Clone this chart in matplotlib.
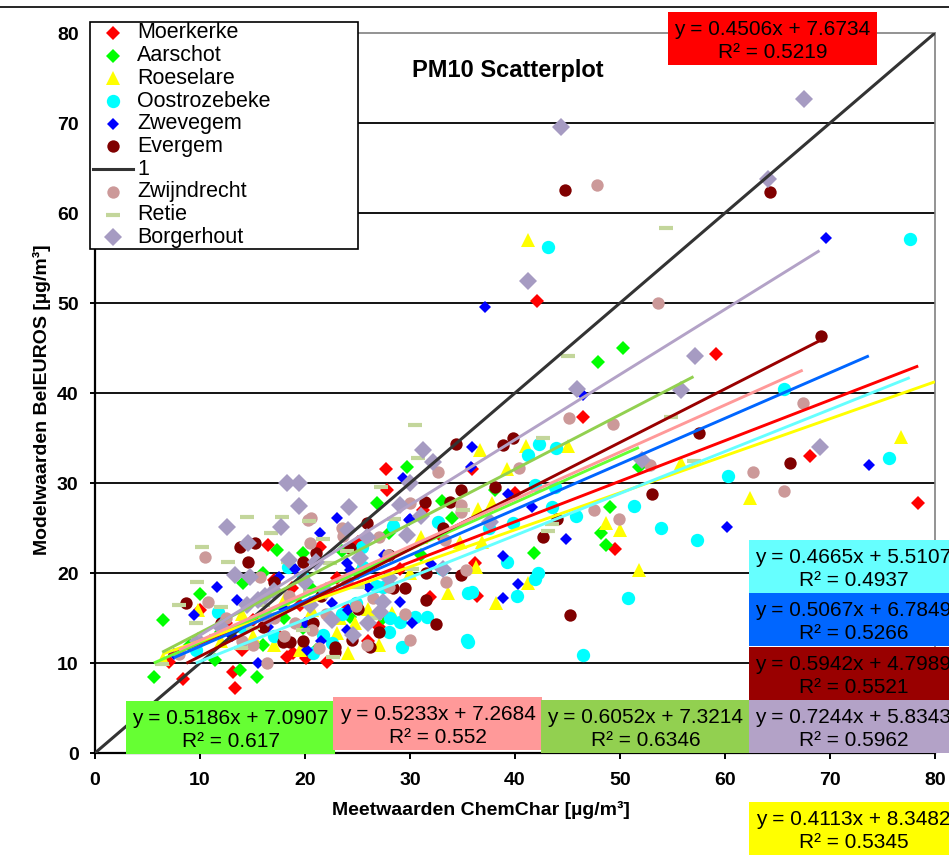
import matplotlib
matplotlib.use("Agg")
import matplotlib.pyplot as plt
from matplotlib.patches import Rectangle
from matplotlib.lines import Line2D
import numpy as np

plt.rcParams['font.family'] = ['Liberation Sans', 'DejaVu Sans']

W, H = 949, 855

# —— data (µg/m³) —— #
moerkerke_x = [78.4, 59.1, 68.1, 42.1, 46.5, 35.9, 40.0, 49.5, 36.2, 36.4, 27.7, 27.8, 21.4, 31.2, 25.0,
               31.9, 27.0, 20.1, 22.1, 16.5, 17.0, 18.8, 10.0, 7.0, 8.4, 13.3, 13.1, 18.9, 18.3, 17.6,
               15.0, 24.0, 29.0, 33.0, 12.5, 20.5, 23.0, 26.0, 14.0, 19.5]
moerkerke_y = [27.8, 44.3, 33.0, 50.2, 37.3, 31.6, 28.9, 22.7, 21.1, 17.4, 31.5, 29.2, 22.9, 27.0, 23.4,
               17.3, 14.0, 10.6, 10.1, 23.1, 19.2, 18.3, 15.9, 10.1, 8.2, 7.2, 9.0, 11.1, 10.7, 12.9,
               14.8, 16.0, 20.5, 24.0, 14.5, 14.0, 19.5, 12.5, 11.5, 16.5]

aarschot_x = [50.3, 47.9, 29.7, 51.8, 34.0, 49.0, 48.2, 48.7, 41.8, 38.1, 26.9, 19.8, 24.3, 27.4, 17.3,
              10.0, 14.1, 6.5, 5.6, 15.4, 11.4, 13.8, 19.8, 22.0, 25.0, 31.0, 18.0, 16.0, 33.0, 12.0,
              21.0, 14.5, 20.5, 23.5, 28.0, 9.0, 16.0]
aarschot_y = [45.0, 43.4, 31.8, 31.8, 26.1, 27.3, 24.4, 23.1, 22.2, 29.2, 27.8, 22.2, 15.1, 15.0, 22.6,
              17.7, 18.9, 14.8, 8.4, 8.4, 10.3, 9.2, 13.9, 18.0, 20.0, 22.0, 15.0, 12.0, 28.0, 13.5,
              11.5, 16.5, 18.5, 22.5, 24.5, 12.0, 20.0]

roeselare_x = [41.2, 76.8, 62.4, 55.8, 51.8, 48.7, 50.0, 45.0, 41.0, 36.7, 39.2, 37.8, 36.5, 36.9, 36.3,
               41.2, 38.2, 33.6, 27.0, 24.1, 28.3, 20.7, 23.3, 23.0, 24.8, 9.8, 34.8, 6.5, 12.0, 15.0,
               18.0, 30.0, 14.0, 17.0, 21.5, 26.0, 31.0, 19.5, 81.2]
roeselare_y = [57.0, 35.1, 28.3, 32.2, 20.3, 25.6, 24.8, 34.1, 34.1, 33.7, 31.6, 27.8, 27.1, 23.4, 20.7,
               18.9, 16.7, 17.8, 12.0, 11.1, 15.6, 15.9, 15.0, 13.3, 14.4, 15.9, 23.4, 10.5, 12.5, 13.0,
               17.0, 20.0, 15.5, 12.0, 18.0, 16.0, 24.0, 11.5, 39.5]

oostrozebeke_x = [77.6, 43.1, 65.6, 75.6, 60.3, 51.3, 53.9, 57.3, 45.8, 43.5, 39.8, 41.9, 43.8, 42.3, 43.9,
                  41.2, 32.7, 39.2, 42.2, 41.9, 35.9, 40.2, 50.8, 35.5, 46.5, 28.4, 25.4, 26.8, 24.9, 30.5,
                  31.6, 29.0, 28.0, 29.2, 21.7, 22.6, 20.8, 35.5, 35.4, 18.4, 11.7, 9.6, 19.8, 25.5, 27.4,
                  28.1, 14.0, 17.0, 23.5, 33.0, 37.5]
oostrozebeke_y = [57.1, 56.2, 40.4, 32.8, 30.8, 27.4, 25.0, 23.7, 26.3, 27.3, 25.6, 29.8, 29.6, 34.3, 33.9,
                  33.1, 25.7, 21.2, 20.0, 19.3, 17.9, 17.4, 17.2, 12.3, 10.9, 25.2, 22.9, 18.6, 16.7, 15.1,
                  15.1, 14.6, 13.4, 11.8, 13.1, 12.2, 11.1, 17.8, 12.6, 20.7, 15.7, 11.4, 19.6, 20.7, 18.4,
                  15.0, 14.0, 13.0, 15.5, 20.5, 25.0]

zwevegem_x = [69.6, 37.1, 73.7, 60.2, 46.5, 35.9, 35.8, 29.3, 39.3, 41.6, 44.9, 29.9, 38.9, 40.3, 38.9,
              23.0, 21.4, 30.0, 24.0, 24.3, 22.6, 24.1, 29.0, 30.2, 24.0, 20.2, 11.6, 9.4, 17.5, 15.5,
              7.5, 13.0, 18.0, 20.0, 26.0, 32.0, 16.5, 19.0, 27.5, 13.5, 21.5]
zwevegem_y = [57.2, 49.5, 32.0, 25.1, 39.8, 34.0, 31.8, 30.5, 28.8, 27.3, 23.8, 25.9, 21.9, 18.8, 17.2,
              26.1, 24.4, 26.0, 21.1, 20.3, 16.7, 15.9, 16.8, 14.4, 13.7, 11.4, 18.4, 15.3, 19.6, 10.0,
              11.0, 13.0, 16.0, 14.5, 18.5, 21.0, 14.0, 20.5, 22.0, 17.0, 12.5]

evergem_x = [44.8, 64.3, 69.1, 57.5, 66.2, 53.0, 45.2, 42.7, 38.9, 39.8, 38.1, 34.9, 34.9, 44.0, 34.4,
             31.4, 33.8, 33.1, 25.9, 24.3, 19.8, 21.0, 31.5, 31.5, 29.5, 28.4, 32.5, 20.8, 24.5, 26.2,
             22.9, 13.8, 15.2, 14.6, 8.7, 17.9, 18.6, 19.8, 22.9, 16.0, 27.0, 12.0, 21.5, 25.0, 28.0,
             17.0]
evergem_y = [62.6, 62.3, 46.3, 35.6, 32.2, 28.8, 15.3, 24.0, 34.2, 35.0, 29.6, 29.2, 19.8, 26.0, 34.3,
             27.9, 27.9, 25.0, 25.6, 22.8, 21.2, 22.2, 20.0, 17.0, 18.3, 18.3, 14.3, 14.4, 12.6, 11.8,
             11.8, 22.9, 23.3, 21.2, 16.7, 12.3, 12.3, 12.5, 11.2, 14.0, 13.5, 14.5, 17.5, 16.0, 22.0,
             19.0]

identity_x = [0, 80]
identity_y = [0, 80]

zwijndrecht_x = [47.8, 53.6, 45.1, 49.3, 40.4, 32.7, 62.7, 47.5, 49.9, 52.9, 34.9, 34.9, 30.0, 33.3, 67.4,
                 65.6, 35.3, 20.6, 23.5, 23.6, 20.5, 33.4, 27.9, 26.5, 24.9, 20.7, 30.0, 25.9, 21.3, 10.5,
                 10.8, 15.7, 20.3, 16.4, 18.0, 19.0, 22.0, 14.0, 17.0, 28.0, 8.0, 12.5, 15.0, 18.5, 24.0,
                 27.0, 29.5]
zwijndrecht_y = [63.1, 50.0, 37.2, 36.6, 31.7, 31.2, 31.2, 27.0, 26.0, 32.0, 27.6, 26.8, 27.8, 23.7, 38.9,
                 29.1, 20.3, 26.1, 25.0, 24.1, 23.3, 19.0, 22.0, 17.2, 16.3, 13.7, 12.6, 12.0, 11.7, 21.8,
                 16.8, 19.6, 25.9, 10.0, 13.0, 14.5, 15.5, 12.5, 15.0, 18.5, 11.0, 15.0, 12.0, 17.5, 19.0,
                 24.0, 15.5]

retie_x = [54.4, 54.9, 57.0, 45.0, 30.5, 42.7, 30.8, 43.5, 43.1, 27.2, 20.4, 21.7, 22.4, 30.2, 26.7,
           22.7, 19.8, 10.2, 17.8, 16.8, 12.7, 9.7, 8.0, 9.6, 12.0, 6.4, 14.5, 13.9, 15.0, 18.4,
           25.0, 35.0, 11.5, 16.0, 20.5, 24.0, 28.5]
retie_y = [58.3, 37.3, 32.4, 44.1, 36.4, 35.0, 32.8, 25.4, 24.7, 29.5, 25.8, 23.8, 21.1, 20.4, 15.0,
           10.7, 13.7, 22.9, 26.2, 24.4, 21.2, 19.0, 16.4, 14.4, 16.2, 9.9, 26.2, 11.7, 13.9, 21.2,
           18.5, 27.0, 13.0, 16.5, 18.0, 22.5, 26.0]

borgerhout_x = [67.5, 44.4, 64.1, 41.2, 45.9, 57.1, 55.8, 52.1, 69.0, 31.2, 32.2, 30.0, 29.7, 31.0, 37.6,
                18.3, 19.4, 19.4, 12.6, 17.7, 14.6, 13.3, 14.8, 14.5, 15.5, 16.2, 24.2, 29.0, 24.1, 25.9,
                25.2, 21.0, 33.1, 27.4, 27.1, 26.0, 22.6, 24.6, 9.8, 17.0, 20.0, 12.0, 18.5, 22.0, 16.5,
                20.5, 28.0]
borgerhout_y = [72.7, 69.6, 63.8, 52.4, 40.4, 44.1, 40.3, 32.6, 34.0, 33.7, 32.3, 30.0, 24.2, 26.3, 25.7,
                30.0, 30.0, 27.4, 25.1, 25.1, 23.3, 19.8, 19.6, 16.5, 17.0, 17.5, 27.3, 27.6, 24.8, 24.0,
                21.7, 21.2, 20.5, 16.8, 15.7, 14.4, 14.8, 13.1, 12.5, 18.0, 19.0, 14.0, 21.5, 18.0, 15.0,
                16.5, 19.5]

# linear trendlines from the fitted equations
slopes = [0.4506, 0.5186, 0.4113, 0.4665, 0.5067, 0.5942, 0.5233, 0.6052, 0.7244]
intercepts = [7.6734, 7.0907, 8.3482, 5.5107, 6.7849, 4.7989, 7.2684, 7.3214, 5.8343]
r_squared = ["0.5219", "0.617", "0.5345", "0.4937", "0.5266", "0.5521", "0.552", "0.6346", "0.5962"]

names = ["Moerkerke", "Aarschot", "Roeselare", "Oostrozebeke", "Zwevegem", "Evergem",
         "Zwijndrecht", "Retie", "Borgerhout"]
xs = [moerkerke_x, aarschot_x, roeselare_x, oostrozebeke_x, zwevegem_x, evergem_x,
      zwijndrecht_x, retie_x, borgerhout_x]
ys = [moerkerke_y, aarschot_y, roeselare_y, oostrozebeke_y, zwevegem_y, evergem_y,
      zwijndrecht_y, retie_y, borgerhout_y]

# —— styles —— #
markers = ["D", "D", "^", "o", "D", "o", "o", "_", "D"]
msizes = [7.4, 7.6, 9.8, 9.6, 6.2, 8.9, 8.9, 10, 8.8]
mcolors = ["#FF0000", "#00FF00", "#FFFF00", "#00FFFF", "#0000FF", "#800000",
           "#CC9999", "#C3D69B", "#A69BC2"]
tcolors = ["#FF0000", "#66FF33", "#FFFF00", "#66FFFF", "#0066FF", "#990000",
           "#FF9999", "#92D050", "#B3A2C7"]
# label boxes (left, top) in pixels
box_pos = [(668, 12), (126, 701), (749, 802), (749, 540), (749, 593), (749, 647),
           (333, 697), (541, 700), (749, 700)]
BOX_W, BOX_H = 209, 53


def fx(px):
    return px / W


def fy(py):
    return 1 - py / H


fig = plt.figure(figsize=(W / 100, H / 100), dpi=100)
ax = fig.add_axes([fx(95), fy(753), fx(935) - fx(95), fy(33) - fy(753)])

for i in range(len(names)):
    mew = 3 if markers[i] == "_" else 0
    ax.plot(xs[i], ys[i], linestyle="none", marker=markers[i], ms=msizes[i],
            mfc=mcolors[i], mec=mcolors[i], mew=mew, zorder=3)

ax.plot(identity_x, identity_y, color="#333333", lw=2.2, zorder=4)

for i in range(len(names)):
    x0 = max(min(xs[i]), 0)
    x1 = min(max(xs[i]), 80)
    tx = np.array([x0, x1])
    ax.plot(tx, slopes[i] * tx + intercepts[i], color=tcolors[i], lw=2.1, zorder=5,
            solid_capstyle="butt")

ax.set_xlim(0, 80)
ax.set_ylim(0, 80)
ax.set_xticks(range(0, 81, 10))
ax.set_yticks(range(0, 81, 10))
for v in range(10, 80, 10):
    ax.axhline(v, color="black", lw=1.3, zorder=1)

for s in ["left", "bottom"]:
    ax.spines[s].set_color("black")
    ax.spines[s].set_linewidth(1.6)
for s in ["top", "right"]:
    ax.spines[s].set_color("#808080")
    ax.spines[s].set_linewidth(1.2)

ax.tick_params(axis="x", direction="out", length=4.5, width=1.4, pad=9, labelsize=14)
ax.tick_params(axis="y", direction="out", length=3.8, width=1.4, pad=8, labelsize=14)
for lab in ax.get_xticklabels() + ax.get_yticklabels():
    lab.set_fontweight("bold")

fig.text(fx(481), fy(810), "Meetwaarden ChemChar [µg/m³]", ha="center", va="center",
         fontsize=14, fontweight="bold")
fig.text(fx(42), fy(400), "Modelwaarden BelEUROS [µg/m³]", ha="center", va="center",
         rotation=90, fontsize=14, fontweight="bold")
fig.text(fx(508), fy(77), "PM10 Scatterplot", ha="center", va="baseline",
         fontsize=17, fontweight="bold")

# —— trendline equation boxes —— #
for i in range(len(names)):
    left, top = box_pos[i]
    fig.add_artist(Rectangle((fx(left), fy(top + BOX_H)), BOX_W / W, BOX_H / H,
                             transform=fig.transFigure, facecolor=tcolors[i],
                             edgecolor="none", zorder=6))
    cx = fx(left + BOX_W / 2)
    fig.text(cx, fy(top + 23), f"y = {slopes[i]:.4f}x + {intercepts[i]:.4f}",
             ha="center", va="baseline", fontsize=15, zorder=7)
    fig.text(cx, fy(top + 46), f"R² = {r_squared[i]}",
             ha="center", va="baseline", fontsize=15, zorder=7)

# —— legend —— #
fig.add_artist(Rectangle((fx(90), fy(249)), (358 - 90) / W, (249 - 22) / H,
                         transform=fig.transFigure, facecolor="white",
                         edgecolor="black", lw=1.2, zorder=6))
legend_names = names[:6] + ["1"] + names[6:]
legend_idx = list(range(6)) + [None] + list(range(6, 9))
for k, (lab, idx) in enumerate(zip(legend_names, legend_idx)):
    yc = fy(33 + 22.7 * k)
    if idx is None:
        fig.add_artist(Line2D([fx(93), fx(133)], [yc, yc], transform=fig.transFigure,
                              color="#333333", lw=2.2, zorder=7))
    else:
        mew = 3 if markers[idx] == "_" else 0
        fig.add_artist(Line2D([fx(113)], [yc], transform=fig.transFigure, linestyle="none",
                              marker=markers[idx], ms=msizes[idx], mfc=mcolors[idx],
                              mec=mcolors[idx], mew=mew, zorder=7))
    fig.text(fx(137), yc, lab, ha="left", va="center", fontsize=15.5, zorder=7)

# outer chart border
fig.add_artist(Line2D([0, 1], [fy(7), fy(7)], transform=fig.transFigure,
                      color="black", lw=1.2, zorder=2))

fig.savefig("out.png", dpi=100)
